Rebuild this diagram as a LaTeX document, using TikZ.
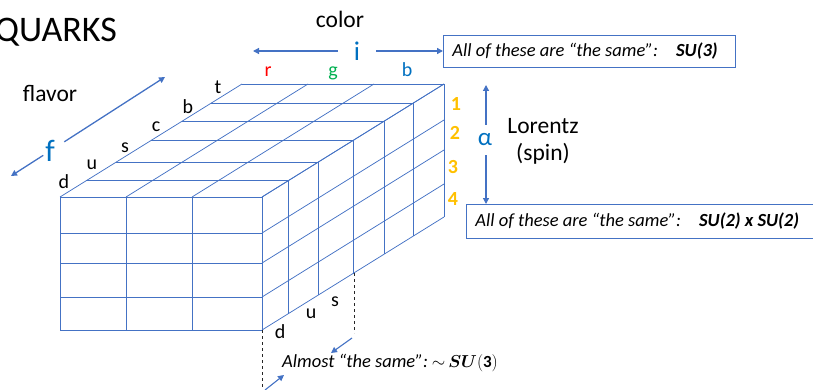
\documentclass[tikz,border=0pt]{standalone}
\usepackage{fontspec}
\setmainfont{Carlito}
\usepackage{bm}
\usetikzlibrary{arrows.meta}
\definecolor{gridblue}{HTML}{4472C4}
\definecolor{txtblue}{HTML}{0070C0}
\definecolor{qred}{HTML}{FF0000}
\definecolor{qgreen}{HTML}{00B050}
\definecolor{qorange}{HTML}{FFC000}

\begin{document}
\begin{tikzpicture}[x=1pt,y=-1pt,
  grid/.style={gridblue, line width=0.75pt},
  axis/.style={gridblue, line width=1.3pt, -{Triangle[length=6pt,width=6pt]}},
  lbl/.style={font=\fontsize{20}{22}\selectfont, inner sep=0pt},
  word/.style={font=\fontsize{23.5}{26}\selectfont, inner sep=0pt},
  num/.style={text=qorange, font=\fontsize{20}{22}\selectfont\bfseries, inner sep=0pt},
  note/.style={draw=gridblue, line width=0.8pt, font=\fontsize{18.5}{21}\selectfont\itshape,
    anchor=north west, inner xsep=9pt, inner ysep=0pt},
  guide/.style={dashed, black!85, line width=0.7pt}
]
\useasboundingbox (0,0) rectangle (813,390);
\clip (0,0) rectangle (813,390);

% ---- title ----
\node[font=\fontsize{36}{40}\selectfont, anchor=base east, inner sep=0pt] (quarks) at (117,42) {QUARKS};

% ---- the block of quark states ----
% front face
\foreach \x in {60,126,192,262} \draw[grid] (\x,197) -- (\x,330);
\foreach \y in {197,233,263,297,330} \draw[grid] (60,\y) -- (262,\y);
% top face, receding edges
\foreach \x in {60,126,192,262} \draw[grid] (\x,197) -- ++(182,-113);
% side face, receding edges
\foreach \y in {197,233,263,297,330} \draw[grid] (262,\y) -- ++(182,-113);
% one slab per flavor
\foreach \d in {26,56,91,122,151,182}
  \draw[grid] ({60+\d},{197-\d*0.62088}) -- ({262+\d},{197-\d*0.62088})
              -- ({262+\d},{330-\d*0.62088});

\coordinate (frontBR) at (262,330);
\coordinate (sBottom) at (354,273);

% ---- flavor ----
\node[word] (flavor) at (50,93) {flavor};
\node[text=txtblue, font=\fontsize{31}{33}\selectfont, inner sep=0pt] (f) at (50,151) {f};
\coordinate (fUp) at (165,77);
\coordinate (fDown) at (11,176);
\draw[axis, shorten <=17pt] (f.center) -- (fUp);
\draw[axis, shorten <=8pt] (f.center) -- (fDown);

\node[lbl] (fd) at (64,182) {d};
\node[lbl] (fu) at (92,165) {u};
\node[lbl] (fs) at (125,148) {s};
\node[lbl] (fc) at (156,127) {c};
\node[lbl] (fb) at (188,107) {b};
\node[lbl] (ft) at (218,87) {t};

% ---- color ----
\node[word] (color) at (340,19) {color};
\node[text=txtblue, font=\fontsize{27}{29}\selectfont, inner sep=0pt, minimum width=38pt] (i) at (357,51) {i};
\node[lbl, text=qred, anchor=base] (cr) at (268,77) {r};
\node[lbl, text=qgreen, anchor=base] (cg) at (333,77) {g};
\node[lbl, text=txtblue, anchor=base] (cb) at (407,77) {b};

\node[note, minimum height=32pt] (su3) at (443,35)
  {\makebox[274pt][l]{All of these are “the same”:\hspace{18pt}\textbf{SU(3)}}};
\coordinate (iLeft) at (253,51);
\draw[axis] (i.west) -- (iLeft);
\draw[axis] (i.east) -- (i.east -| su3.west);

% ---- Lorentz (spin) ----
\node[num] (n1) at (456,104) {1};
\node[num] (n2) at (455,133) {2};
\node[num] (n3) at (453,167) {3};
\node[num] (n4) at (453,199) {4};

\node[text=txtblue, font=\fontsize{25}{27}\selectfont, inner sep=0pt, minimum height=30pt] (alpha) at (485,140) {α};
\node[word] (lorentz) at (543,126) {Lorentz};
\node[word] (spin) at (543,154) {(spin)};

\node[note, minimum height=34pt] (su2) at (466,204)
  {\makebox[342pt][l]{All of these are “the same”:\hspace{18pt}\textbf{SU(2) x SU(2)}}};
\coordinate (aTop) at (486,85);
\draw[axis] (alpha.north -| aTop) -- (aTop);
\draw[axis] (alpha.south -| aTop) -- (aTop |- su2.north);

% ---- the light flavors ----
\node[lbl] (bd) at (280,332) {d};
\node[lbl] (bu) at (311,314) {u};
\node[lbl] (bs) at (335,302) {s};

\coordinate (dashL) at (262,390);
\coordinate (dashR) at (354,333);
\draw[guide] (frontBR) -- (dashL);
\draw[guide] (sBottom) -- (dashR);

\node[font=\fontsize{18.5}{21}\selectfont\itshape, anchor=base west, inner sep=0pt] (almost) at (282,367)
  {Almost “the same”:\hspace{4pt}{\fontsize{17}{19}\selectfont$\mathord{\sim}\,\bm{SU}\mathbf{(3)}$}};
\coordinate (arA) at (352,338);
\coordinate (arB) at (331,353);
\coordinate (arC) at (265,390);
\coordinate (arD) at (284,375);
\draw[axis, line width=1.1pt] (arA) -- (arB);
\draw[axis, line width=1.1pt] (arC) -- (arD);
\end{tikzpicture}
\end{document}
